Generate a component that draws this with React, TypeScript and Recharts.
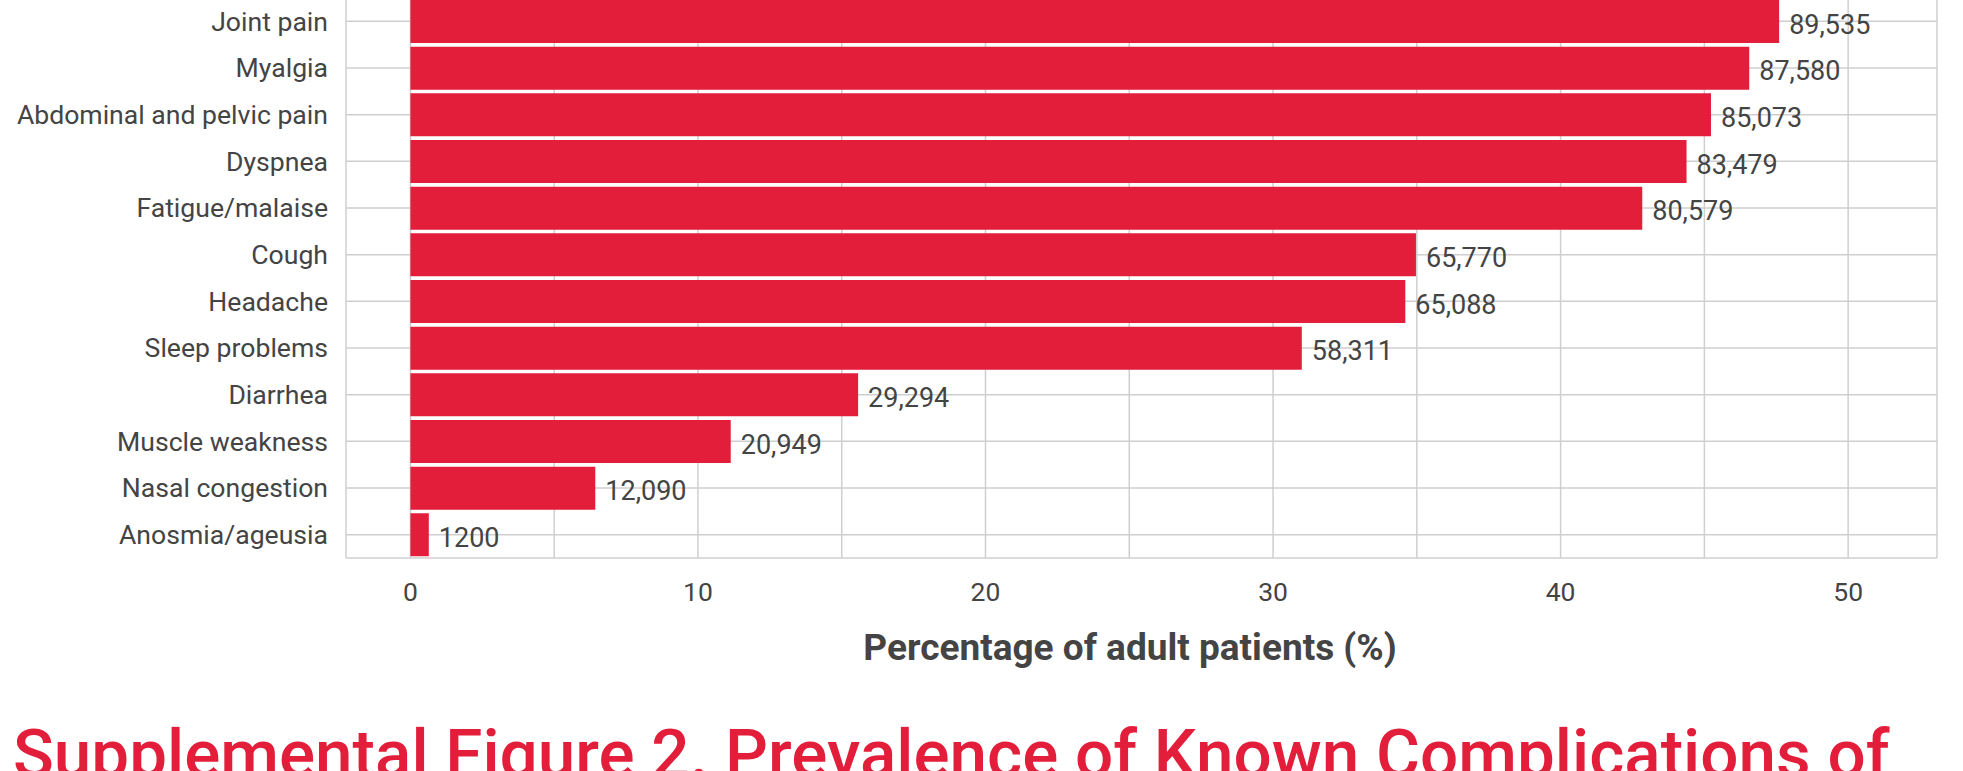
import { BarChart, Bar, XAxis, YAxis, CartesianGrid, LabelList } from 'recharts';

const categories = [
  'Joint pain',
  'Myalgia',
  'Abdominal and pelvic pain',
  'Dyspnea',
  'Fatigue/malaise',
  'Cough',
  'Headache',
  'Sleep problems',
  'Diarrhea',
  'Muscle weakness',
  'Nasal congestion',
  'Anosmia/ageusia',
];

// percentage of adult patients
const percentages = [47.6, 46.56, 45.23, 44.38, 42.84, 34.97, 34.6, 31.0, 15.57, 11.14, 6.43, 0.64];

// patient counts printed next to each bar
const countLabels = ['89,535', '87,580', '85,073', '83,479', '80,579', '65,770', '65,088', '58,311', '29,294', '20,949', '12,090', '1200'];

const xTicks = [0, 5, 10, 15, 20, 25, 30, 35, 40, 45, 50];

const xTitle = 'Percentage of adult patients (%)';
const caption = 'Supplemental Figure 2. Prevalence of Known Complications of';

const data = categories.map((name, i) => ({ name, pct: percentages[i], count: countLabels[i] }));

const RED = '#e31e3a';
const TEXT = '#444444';
const GRID = '#cfcfcf';
const FONT = 'Roboto, "Noto Sans", sans-serif';

const CountLabel = (props: any) => {
  const { x, y, width, height, value } = props;
  return (
    <text x={x + width + 10} y={y + height / 2 + 2.5} dy="0.355em" fill={TEXT} fontSize={27} fontFamily={FONT}>
      {value}
    </text>
  );
};

export default function App() {
  return (
    <div style={{ position: 'fixed', left: 0, top: 0, width: 1963, height: 771, overflow: 'hidden', background: '#fff' }}>
      <div style={{ position: 'absolute', left: 0, top: -2 }}>
        <BarChart
          width={1963}
          height={700}
          data={data}
          layout="vertical"
          barCategoryGap={2}
          margin={{ top: 0, right: 26, bottom: 40, left: 0 }}
        >
          <CartesianGrid stroke={GRID} strokeWidth={1.5} />
          <XAxis
            type="number"
            domain={[-2.24, 53.09]}
            ticks={xTicks}
            tickFormatter={(v) => (v % 10 === 0 ? String(v) : '')}
            axisLine={false}
            tickLine={false}
            tickSize={0}
            tickMargin={24}
            height={100}
            tick={{ fill: TEXT, fontSize: 26.5, fontFamily: FONT }}
          />
          <YAxis
            type="category"
            dataKey="name"
            width={346}
            axisLine={false}
            tickLine={false}
            tickSize={0}
            tickMargin={18}
            tick={{ fill: TEXT, fontSize: 26.6, fontFamily: FONT }}
          />
          <Bar dataKey="pct" fill={RED} isAnimationActive={false}>
            <LabelList dataKey="count" content={<CountLabel />} />
          </Bar>
        </BarChart>
      </div>
      <svg width={1963} height={771} style={{ position: 'absolute', left: 0, top: 0, pointerEvents: 'none' }}>
        <text x={1130} y={660} textAnchor="middle" fill={TEXT} fontSize={37} fontWeight={700} fontFamily={FONT}>
          {xTitle}
        </text>
        <text x={13} y={777} fill={RED} fontSize={67.4} fontWeight={500} fontFamily={FONT}>
          {caption}
        </text>
      </svg>
    </div>
  );
}
